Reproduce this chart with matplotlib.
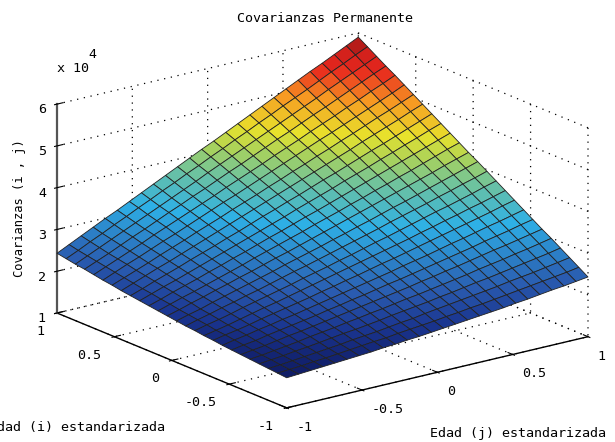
import numpy as np
import matplotlib
matplotlib.use('Agg')
import matplotlib.pyplot as plt
from matplotlib.colors import LinearSegmentedColormap
from mpl_toolkits.mplot3d import proj3d

# Datos: covarianzas en unidades de 10^4
# matriz simetrica, cada fila empieza en la diagonal
n_puntos = 26
filas = [
    [1.72,1.74,1.76,1.78,1.80,1.82,1.84,1.86,1.89,1.91,1.94,1.96,1.99,2.02,2.05,2.08,2.11,2.14,2.17,2.21,2.24,2.28,2.32,2.35,2.39,2.43],
    [1.76,1.78,1.81,1.83,1.86,1.89,1.92,1.95,1.97,2.01,2.04,2.07,2.10,2.14,2.17,2.21,2.24,2.28,2.32,2.36,2.40,2.44,2.48,2.52,2.57],
    [1.81,1.84,1.87,1.90,1.93,1.97,2.00,2.03,2.07,2.11,2.14,2.19,2.23,2.27,2.31,2.35,2.39,2.43,2.48,2.52,2.56,2.61,2.66,2.71],
    [1.88,1.91,1.95,1.99,2.03,2.06,2.10,2.14,2.19,2.23,2.27,2.31,2.36,2.40,2.45,2.50,2.54,2.59,2.64,2.69,2.74,2.79,2.85],
    [1.95,2.00,2.04,2.08,2.13,2.17,2.22,2.26,2.31,2.36,2.40,2.45,2.50,2.55,2.60,2.66,2.71,2.76,2.82,2.87,2.93,2.99],
    [2.04,2.09,2.14,2.19,2.24,2.29,2.34,2.39,2.44,2.49,2.55,2.60,2.66,2.71,2.77,2.83,2.89,2.94,3.00,3.06,3.12],
    [2.14,2.19,2.25,2.30,2.36,2.41,2.47,2.53,2.58,2.64,2.70,2.76,2.82,2.88,2.94,3.01,3.07,3.13,3.20,3.26],
    [2.25,2.31,2.37,2.43,2.49,2.55,2.61,2.67,2.74,2.80,2.86,2.93,3.00,3.06,3.13,3.20,3.26,3.33,3.40],
    [2.37,2.44,2.50,2.57,2.63,2.70,2.77,2.83,2.90,2.97,3.04,3.11,3.18,3.25,3.32,3.39,3.47,3.54],
    [2.51,2.58,2.65,2.72,2.79,2.86,2.93,3.00,3.07,3.15,3.22,3.30,3.37,3.45,3.52,3.60,3.68],
    [2.65,2.72,2.80,2.87,2.95,3.03,3.10,3.18,3.26,3.34,3.42,3.49,3.57,3.65,3.74,3.82],
    [2.80,2.88,2.96,3.04,3.12,3.20,3.29,3.37,3.45,3.53,3.62,3.70,3.79,3.87,3.96],
    [2.96,3.05,3.13,3.22,3.30,3.39,3.48,3.56,3.65,3.74,3.83,3.92,4.01,4.10],
    [3.14,3.23,3.32,3.41,3.50,3.59,3.68,3.77,3.86,3.95,4.05,4.14,4.23],
    [3.32,3.41,3.51,3.60,3.70,3.79,3.89,3.98,4.08,4.18,4.28,4.37],
    [3.51,3.61,3.71,3.81,3.91,4.01,4.11,4.21,4.31,4.41,4.51],
    [3.71,3.82,3.92,4.02,4.13,4.23,4.34,4.44,4.55,4.65],
    [3.92,4.03,4.14,4.25,4.35,4.46,4.57,4.68,4.79],
    [4.14,4.25,4.37,4.48,4.59,4.70,4.82,4.93],
    [4.37,4.48,4.60,4.72,4.83,4.95,5.07],
    [4.60,4.72,4.84,4.96,5.08,5.21],
    [4.85,4.97,5.10,5.22,5.35],
    [5.10,5.23,5.36,5.48],
    [5.36,5.49,5.62],
    [5.63,5.76],
    [5.90],
]
ticks_edad = [-1, -0.5, 0, 0.5, 1]
etiquetas_edad = ['-1', '-0.5', '0', '0.5', '1']
ticks_cov = [1, 2, 3, 4, 5, 6]

Z = np.zeros((n_puntos, n_puntos))
for i, fila in enumerate(filas):
    Z[i, i:] = fila
    Z[i:, i] = fila
edad = np.linspace(-1, 1, n_puntos)
X, Y = np.meshgrid(edad, edad)

W, H = 615, 442
plt.rcParams['font.family'] = 'DejaVu Sans Mono'
plt.rcParams['font.size'] = 9.6
plt.rcParams['grid.color'] = 'black'
plt.rcParams['grid.linestyle'] = (0, (1, 4.5))
plt.rcParams['grid.linewidth'] = 0.9

# jet apagado como en la figura
mapa = LinearSegmentedColormap.from_list('jet_apagado', [
    (0.00, '#101c64'), (0.08, '#1a3590'), (0.17, '#2a5cb0'), (0.36, '#2eb0e6'),
    (0.50, '#72c49a'), (0.58, '#aad25a'), (0.655, '#e8e22c'), (0.775, '#f79a22'),
    (0.88, '#e8281e'), (0.95, '#d0201c'), (1.00, '#8c1414')])

fig = plt.figure(figsize=(W / 100, H / 100), dpi=100)
ax = fig.add_axes([0.1, 0.1, 0.8, 0.8 * W / H], projection='3d', proj_type='ortho')
ax.set_box_aspect((378, 381, 220))
ax.view_init(elev=18.2, azim=-127.1)

ax.plot_surface(X, Y, Z, rstride=1, cstride=1, cmap=mapa, vmin=1.72, vmax=5.9,
                edgecolor='#222222', linewidth=0.6, shade=False, antialiased=True)

ax.set_xlim(-1, 1, view_margin=0)
ax.set_ylim(-1, 1, view_margin=0)
ax.set_zlim(1, 6, view_margin=0)
ax.set_xticks(ticks_edad)
ax.set_xticklabels(etiquetas_edad, ha='left')
ax.set_yticks(ticks_edad)
ax.set_yticklabels(etiquetas_edad, ha='right')
ax.set_zticks(ticks_cov)
for eje in (ax.xaxis, ax.yaxis, ax.zaxis):
    eje.pane.set_visible(False)
    eje.line.set_color('black')
    eje.line.set_linewidth(1.0)
    eje._axinfo['tick']['inward_factor'] = 0.1
    eje._axinfo['tick']['outward_factor'] = 0.25
ax.zaxis.line.set_color('#555555')
ax.zaxis.line.set_linewidth(1.6)
ax.tick_params(axis='x', pad=1)
ax.tick_params(axis='y', pad=1)
ax.tick_params(axis='z', pad=-2)


def esquina_px(x, y, z):
    xs, ys, _ = proj3d.proj_transform(x, y, z, ax.get_proj())
    return ax.transData.transform((xs, ys))


# ajustar el cuadro 3D a las esquinas medidas en la figura
fig.canvas.draw()
izq = esquina_px(-1, 1, 1)
der = esquina_px(1, -1, 1)
escala = (588 - 57) / (der[0] - izq[0])
pos = ax.get_position()
lado = pos.width * escala
ax.set_position([pos.x0, pos.y0, lado, lado * W / H])
fig.canvas.draw()
izq = esquina_px(-1, 1, 1)
pos = ax.get_position()
ax.set_position([pos.x0 + (57 - izq[0]) / W, pos.y0 + ((H - 313) - izq[1]) / H, pos.width, pos.height])

fig.text(325 / W, 1 - 18 / H, 'Covarianzas Permanente', ha='center', va='center')
fig.text(57 / W, 1 - 68 / H, 'x 10', ha='left', va='center')
fig.text(92 / W, 1 - 55 / H, '4', ha='center', va='center')
fig.text(20 / W, 1 - 208 / H, 'Covarianzas (i , j)', rotation=90, ha='center', va='center', fontsize=8.7)
fig.text(165 / W, 1 - 428 / H, 'Edad (i) estandarizada', ha='right', va='center')
fig.text(430 / W, 1 - 433 / H, 'Edad (j) estandarizada', ha='left', va='center')

fig.savefig('out.png', dpi=100)
